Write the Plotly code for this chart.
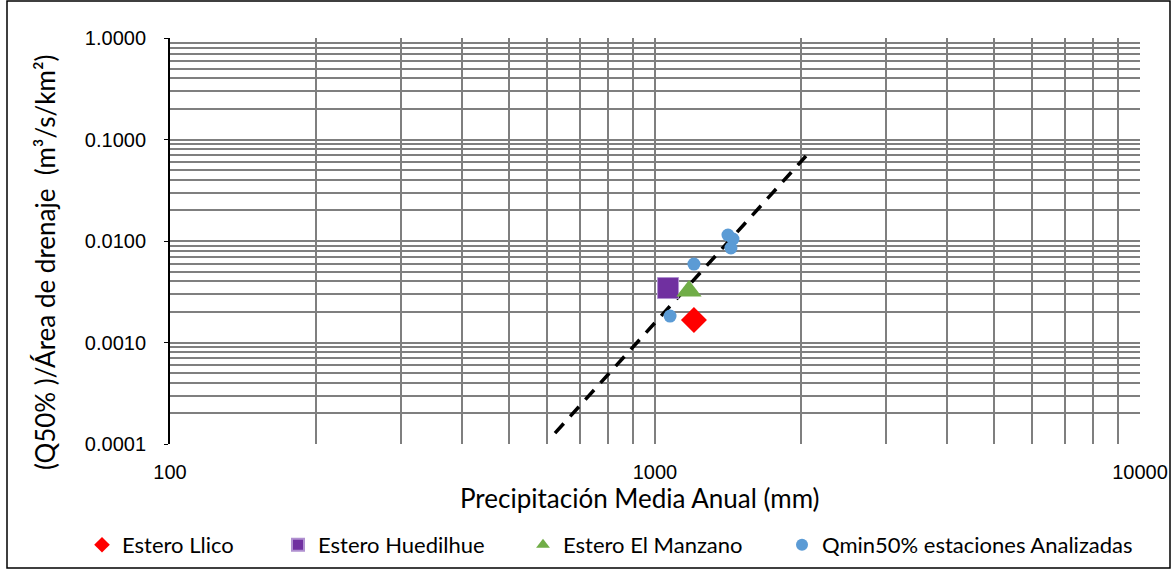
import plotly.graph_objects as go

# Data
llico_x = [1203]
llico_y = [0.00167]
huedilhue_x = [1064]
huedilhue_y = [0.00344]
manzano_x = [1175]
manzano_y = [0.00321]
est_x = [1414, 1448, 1434, 1203, 1074]
est_y = [0.01146, 0.01047, 0.00853, 0.00593, 0.00182]
trend_x = [622, 2048]
trend_y = [0.000128, 0.0688]

x_ticks = [100, 1000, 10000]
y_ticks = [0.0001, 0.001, 0.01, 0.1, 1.0]
y_tick_text = ["0.0001", "0.0010", "0.0100", "0.1000", "1.0000"]

FONT = "Lato"
TICKFONT = "Liberation Sans"
W, H = 1172, 569
ML, MR, MT, MB = 170, 32, 38, 125
pw = W - ML - MR
ph = H - MT - MB


def px_x(px):
    return (px - ML) / pw


def px_y(py):
    return (H - MB - py) / ph


fig = go.Figure()
fig.add_trace(go.Scatter(x=trend_x, y=trend_y, mode="lines",
                         line=dict(color="black", width=3.5, dash="13px,9.6px"),
                         showlegend=False, hoverinfo="skip"))
fig.add_trace(go.Scatter(x=llico_x, y=llico_y, mode="markers", name="Estero Llico",
                         legend="legend",
                         marker=dict(symbol="diamond", color="#FF0000", size=20)))
fig.add_trace(go.Scatter(x=huedilhue_x, y=huedilhue_y, mode="markers", name="Estero Huedilhue",
                         legend="legend2",
                         marker=dict(symbol="square", color="#7030A0", size=21,
                                     line=dict(color="#B090D0", width=1))))
fig.add_trace(go.Scatter(x=manzano_x, y=manzano_y, mode="markers", name="Estero El Manzano",
                         legend="legend3",
                         marker=dict(symbol="triangle-up", color="#70AD47", size=22)))
fig.add_trace(go.Scatter(x=est_x, y=est_y, mode="markers", name="Qmin50% estaciones Analizadas",
                         legend="legend4",
                         marker=dict(symbol="circle", color="#5B9BD5", size=13)))

fig.add_shape(type="rect", xref="paper", yref="paper",
              x0=px_x(7), x1=px_x(1170), y0=px_y(568), y1=px_y(1),
              line=dict(color="black", width=1.5), fillcolor="rgba(0,0,0,0)", layer="above")

leg_font = dict(family=FONT, size=22, color="black")
leg_common = dict(orientation="h", yanchor="middle", y=px_y(545), xanchor="left",
                  font=leg_font, itemsizing="constant", itemwidth=30,
                  bgcolor="rgba(0,0,0,0)")
text_starts = [122, 318, 563, 822]
offset = 40
fig.update_layout(
    legend=dict(x=px_x(text_starts[0] - offset), **leg_common),
    legend2=dict(x=px_x(text_starts[1] - offset), **leg_common),
    legend3=dict(x=px_x(text_starts[2] - offset), **leg_common),
    legend4=dict(x=px_x(text_starts[3] - offset), **leg_common),
)

fig.add_annotation(text="Precipitación Media Anual (mm)", xref="paper", yref="paper",
                   x=px_x(640), y=px_y(498), showarrow=False,
                   font=dict(family=FONT, size=26, color="black"),
                   xanchor="center", yanchor="middle")
fig.add_annotation(text="(Q50% )/Área de drenaje  (m³/s/km²)", xref="paper", yref="paper",
                   x=px_x(45), y=px_y(262), showarrow=False, textangle=-90,
                   font=dict(family=FONT, size=26, color="black"),
                   xanchor="center", yanchor="middle")

fig.update_layout(
    width=W, height=H,
    margin=dict(l=ML, r=MR, t=MT, b=MB, autoexpand=False),
    paper_bgcolor="white", plot_bgcolor="white",
    font=dict(family=FONT, size=20, color="black"),
    xaxis=dict(type="log", range=[2, 4], tickvals=x_ticks,
               ticktext=[str(v) for v in x_ticks],
               tickfont=dict(family=TICKFONT, size=20),
               showgrid=True, gridcolor="#7f7f7f", gridwidth=1.5,
               minor=dict(dtick="D1", showgrid=True, gridcolor="#7f7f7f", gridwidth=1.5),
               showline=False, zeroline=False, ticks="", ticklabelstandoff=14,
               automargin=False),
    yaxis=dict(type="log", range=[-4, 0], tickvals=y_ticks, ticktext=y_tick_text,
               tickfont=dict(family=TICKFONT, size=20),
               showgrid=True, gridcolor="#7f7f7f", gridwidth=1.5,
               minor=dict(dtick="D1", showgrid=True, gridcolor="#7f7f7f", gridwidth=1.5),
               showline=True, linecolor="black", linewidth=2, ticks="outside",
               ticklen=4, tickcolor="black", zeroline=False, ticklabelstandoff=14,
               automargin=False),
)

fig.write_html("out.html", config={"displayModeBar": False},
               post_script="document.body.style.margin='0';")
